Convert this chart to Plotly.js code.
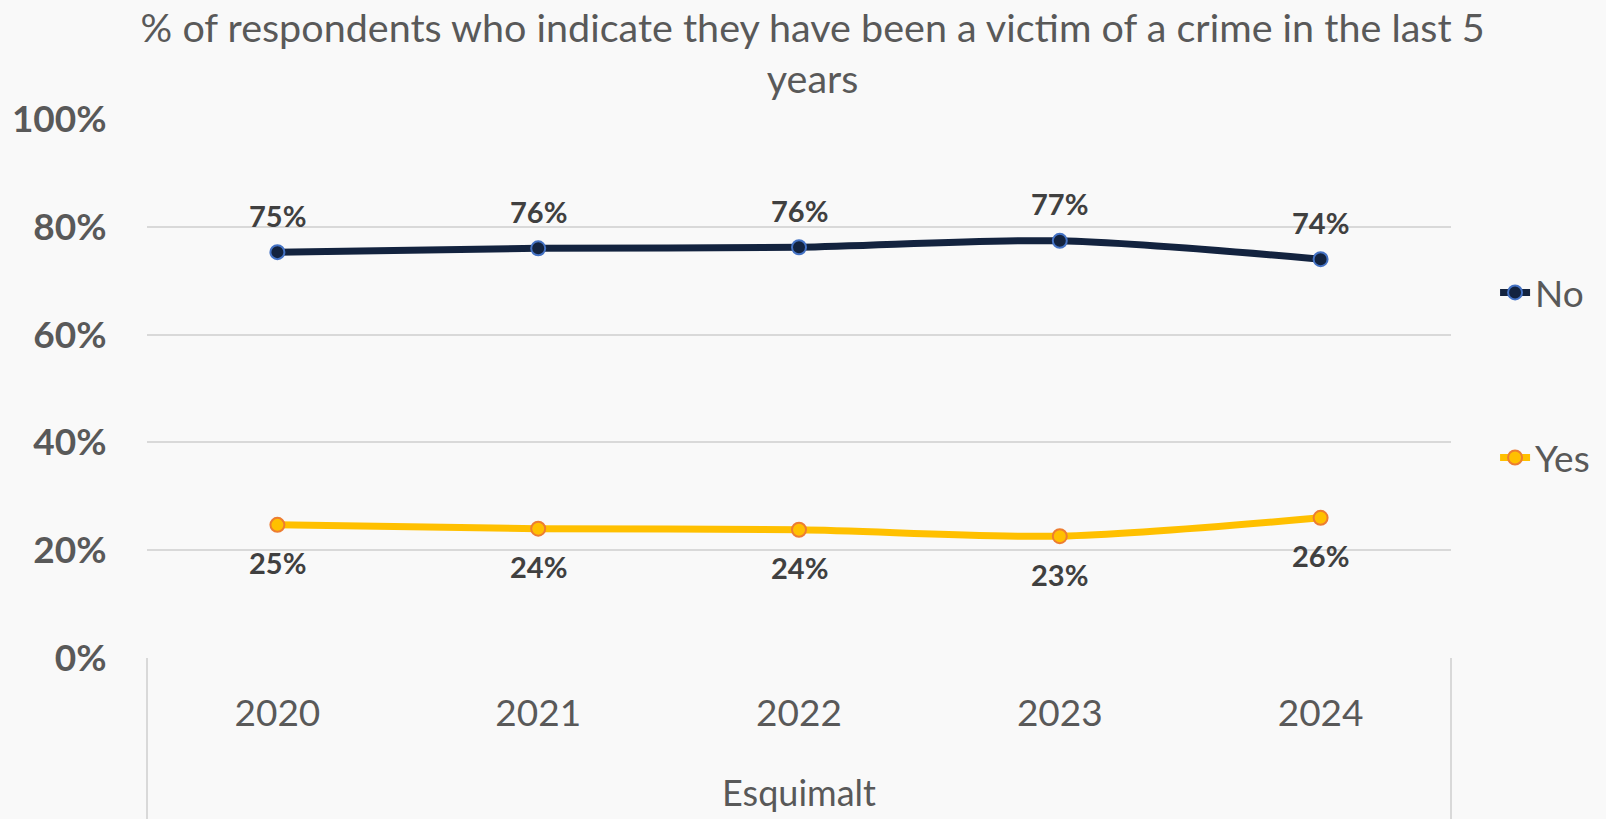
<!DOCTYPE html>
<html>
<head>
<meta charset="utf-8">
<script src="https://cdn.plot.ly/plotly-3.0.1.min.js"></script>
<style>html,body{margin:0;padding:0;background:#f9f9f9;}#chart{width:1606px;height:819px;}</style>
</head>
<body>
<div id="chart"></div>
<script>
const years = ["2020", "2021", "2022", "2023", "2024"];
const noValues = [75.3, 76.0, 76.2, 77.4, 74.0];
const yesValues = [24.7, 24.0, 23.8, 22.6, 26.0];
const yTicks = [0, 20, 40, 60, 80, 100];
const yTickText = ["0%", "20%", "40%", "60%", "80%", "100%"];
const groupLabel = "Esquimalt";
const titleText = "% of respondents who indicate they have been a victim of a crime in the last 5<br>years";

const FONT = "Lato, 'Open Sans', sans-serif";

const traces = [
  {
    type: "scatter", mode: "lines+markers", name: "No", x: years, y: noValues,
    line: {color: "#13233f", width: 7, shape: "spline", smoothing: 0.8},
    marker: {size: 14, color: "#13233f", line: {color: "#4472c4", width: 2}},
    legendgroup: "no"
  },
  {
    type: "scatter", mode: "lines+markers", name: "Yes", x: years, y: yesValues,
    line: {color: "#ffc000", width: 7, shape: "spline", smoothing: 0.8},
    marker: {size: 14, color: "#ffc000", line: {color: "#ed7d31", width: 2}},
    legendgroup: "yes"
  }
];

const labelFont = {family: FONT, size: 29, color: "#404040"};
const annotations = [];
for (let i = 0; i < years.length; i++) {
  annotations.push({x: i, y: noValues[i], xref: "x", yref: "y", text: "<b>" + Math.round(noValues[i]) + "%</b>",
    showarrow: false, yshift: 37, font: labelFont});
  annotations.push({x: i, y: yesValues[i], xref: "x", yref: "y", text: "<b>" + Math.round(yesValues[i]) + "%</b>",
    showarrow: false, yshift: -38, font: labelFont});
}

const layout = {
  width: 1606, height: 819,
  paper_bgcolor: "#f9f9f9", plot_bgcolor: "#f9f9f9",
  margin: {l: 147, r: 154, t: 119, b: 161, pad: 0},
  title: {text: titleText, x: 0.506, xanchor: "center", y: 0.949, yanchor: "top",
    font: {family: FONT, size: 39.5, color: "#595959"}},
  showlegend: true,
  legend: {x: 1.033, xanchor: "left", y: 0.735, yanchor: "top", traceorder: "grouped", tracegroupgap: 114,
    font: {family: FONT, size: 37, color: "#595959"}, bgcolor: "rgba(0,0,0,0)"},
  xaxis: {type: "category", range: [-0.5, 4.5], showgrid: false, zeroline: false, showline: false,
    ticks: "outside", ticklen: 23, tickcolor: "rgba(0,0,0,0)",
    tickfont: {family: FONT, size: 37, color: "#595959"},
    title: {text: groupLabel, standoff: 47, font: {family: FONT, size: 36, color: "#595959"}}},
  yaxis: {range: [0, 100], tickmode: "array", tickvals: yTicks, ticktext: yTickText.map(t => "<b>" + t + "</b>"),
    showgrid: true, gridcolor: "#d9d9d9", gridwidth: 2,
    zeroline: false, showline: false, ticks: "outside", ticklen: 32, tickcolor: "rgba(0,0,0,0)",
    tickfont: {family: FONT, size: 37, color: "#595959"}},
  shapes: [
    {type: "line", xref: "paper", yref: "paper", x0: 0, x1: 0, y0: 0, y1: -0.31, line: {color: "#d9d9d9", width: 2}},
    {type: "line", xref: "paper", yref: "paper", x0: 1, x1: 1, y0: 0, y1: -0.31, line: {color: "#d9d9d9", width: 2}}
  ],
  annotations: annotations
};

Plotly.newPlot("chart", traces, layout, {displayModeBar: false});
</script>
</body>
</html>
